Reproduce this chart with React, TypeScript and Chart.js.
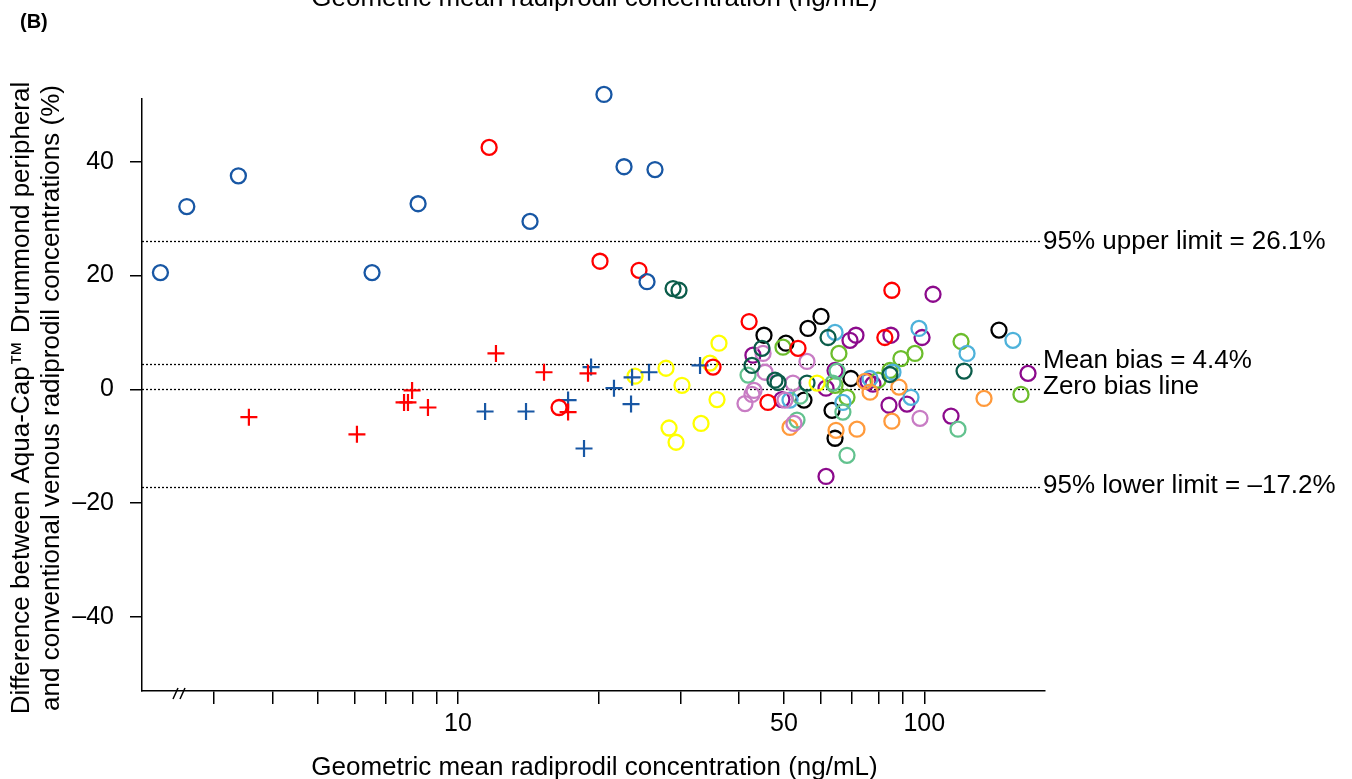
import React, { useEffect, useRef } from 'react';
import { Chart, registerables } from 'chart.js';

Chart.register(...registerables);

const FONT = "'Liberation Sans', Arial, Helvetica, sans-serif";

// Axis ticks
const xTickValues = [3, 4, 5, 6, 7, 8, 9, 10, 20, 30, 40, 50, 60, 70, 80, 90, 100];
const xTickLabels = ['10', '50', '100'];
const yTickValues = [-40, -20, 0, 20, 40];

// Reference lines
const refLineValues = [26.1, 4.4, 0, -17.2];
const refLineLabels = ['95% upper limit = 26.1%', 'Mean bias = 4.4%', 'Zero bias line', '95% lower limit = \u201317.2%'];

const xTitle = 'Geometric mean radiprodil concentration (ng/mL)';
const yTitleLines = ['Difference between Aqua-Cap\u2122 Drummond peripheral', 'and conventional venous radiprodil concentrations (%)'];

// Series (x = geometric mean concentration ng/mL, y = difference %)
const blueCircleX = [2.3, 2.62, 3.38, 6.54, 8.21, 14.27, 20.56, 22.7, 26.45, 25.43];
const blueCircleY = [20.5, 32.1, 37.5, 20.5, 32.6, 29.5, 51.8, 39.1, 38.6, 18.9];

const redCircleX = [11.66, 20.16, 24.44, 42.1, 35.23, 16.47, 46.2, 53.6, 85.2, 82.3];
const redCircleY = [42.5, 22.5, 20.9, 11.9, 3.9, -3.2, -2.3, 7.2, 17.4, 9.1];

const redCrossX = [3.56, 6.07, 7.66, 7.81, 7.97, 8.62, 12.06, 15.29, 19.0, 17.22];
const redCrossY = [-4.9, -7.9, -2.3, -2.3, -0.2, -3.2, 6.3, 3.0, 2.8, -4.0];

const blueCrossX = [11.43, 13.99, 17.22, 19.29, 21.6, 23.62, 23.5, 25.68, 18.63, 33.04];
const blueCrossY = [-3.9, -3.9, -1.9, 3.9, 0.2, 2.1, -2.6, 3.0, -10.4, 4.2];

const yellowX = [23.97, 27.93, 30.22, 36.28, 34.7, 35.93, 33.2, 28.35, 29.35, 58.9];
const yellowY = [2.3, 3.7, 0.7, 8.1, 4.6, -1.8, -6.0, -6.8, -9.3, 1.1];

const darkGreenX = [28.92, 29.78, 44.86, 42.7, 47.84, 48.56, 56.03, 62.17, 84.4, 121.7];
const darkGreenY = [17.7, 17.4, 7.2, 4.2, 1.6, 1.2, 1.1, 9.1, 2.6, 3.2];

const blackX = [45.31, 50.5, 56.3, 60.05, 55.2, 63.4, 64.35, 69.6, 144.6];
const blackY = [9.5, 8.1, 10.7, 12.8, -1.9, -3.7, -8.6, 1.9, 10.4];

const purpleX = [42.9, 49.5, 61.55, 64.35, 69.28, 71.36, 84.8, 98.9, 104.4, 75.7, 77.6, 84.0, 91.8, 114.1, 166.9, 61.55];
const purpleY = [6.0, -1.8, 0.2, 3.3, 8.6, 9.5, 9.5, 9.1, 16.7, 1.4, 0.9, -2.8, -2.6, -4.7, 2.8, -15.3];

const pinkX = [45.1, 45.54, 43.13, 42.7, 41.25, 52.28, 56.03, 50.26, 52.54, 97.9];
const pinkY = [6.3, 3.0, -0.2, -0.9, -2.5, 1.1, 4.9, -1.9, -6.0, -5.1];

const seaGreenX = [41.88, 53.33, 54.13, 65.0, 63.7, 66.9, 68.27, 118.1];
const seaGreenY = [2.5, -5.4, -1.2, 3.2, 1.1, -4.0, -11.6, -7.0];

const limeX = [49.77, 65.6, 68.27, 79.56, 84.4, 89.1, 95.5, 119.9, 161.2, 64.35];
const limeY = [7.4, 6.3, -1.4, 1.6, 3.3, 5.4, 6.3, 8.4, -0.9, 0.7];

const orangeX = [51.52, 64.67, 71.72, 76.5, 74.6, 88.24, 85.2, 134.3];
const orangeY = [-6.7, -7.2, -7.0, -0.5, 1.4, 0.4, -5.6, -1.6];

const lightBlueX = [64.35, 51.52, 66.9, 76.5, 85.66, 93.65, 97.4, 123.5, 154.9];
const lightBlueY = [10.0, -1.9, -2.3, 1.9, 3.0, -1.4, 10.7, 6.3, 8.6];

const toPts = (xs: number[], ys: number[]) => xs.map((x, i) => ({ x, y: ys[i] }));

const circleSet = (label: string, xs: number[], ys: number[], color: string) => ({
  label,
  data: toPts(xs, ys),
  pointStyle: 'circle',
  pointRadius: 7.5,
  borderWidth: 2.3,
  borderColor: color,
  backgroundColor: 'rgba(0,0,0,0)',
  clip: false as any,
});

const crossSet = (label: string, xs: number[], ys: number[], color: string) => ({
  label,
  data: toPts(xs, ys),
  pointStyle: 'cross',
  pointRadius: 8.5,
  borderWidth: 2.2,
  borderColor: color,
  backgroundColor: color,
  clip: false as any,
});

const overlayPlugin = {
  id: 'overlayPlugin',
  beforeDatasetsDraw(chart: any) {
    const { ctx, chartArea, scales } = chart;
    const ys = scales.y;
    ctx.save();
    ctx.strokeStyle = '#000';
    ctx.lineWidth = 1.3;
    ctx.setLineDash([2, 2]);
    refLineValues.forEach((v) => {
      const py = Math.round(ys.getPixelForValue(v)) + 0.5;
      ctx.beginPath();
      ctx.moveTo(chartArea.left, py);
      ctx.lineTo(chartArea.right - 5, py);
      ctx.stroke();
    });
    ctx.restore();
  },
  afterDraw(chart: any) {
    const { ctx, chartArea, scales } = chart;
    const ys = scales.y;
    ctx.save();
    ctx.fillStyle = '#000';

    // reference labels
    ctx.font = `26px ${FONT}`;
    ctx.textAlign = 'left';
    ctx.textBaseline = 'middle';
    const offs = [1, -3, -2, -1];
    refLineValues.forEach((v, i) => {
      const py = ys.getPixelForValue(v) + offs[i];
      ctx.fillText(refLineLabels[i], chartArea.right - 2, py);
    });

    // x titles (bottom and clipped top)
    const cx = (chartArea.left + chartArea.right) / 2 + 1;
    ctx.textAlign = 'center';
    ctx.textBaseline = 'alphabetic';
    ctx.fillText(xTitle, cx, 775);
    ctx.fillText(xTitle, cx, 6);

    // y title
    const cy = (chartArea.top + chartArea.bottom) / 2 + 3;
    ctx.save();
    ctx.translate(22, cy);
    ctx.rotate(-Math.PI / 2);
    ctx.textBaseline = 'middle';
    ctx.fillText(yTitleLines[0], 0, 0);
    ctx.restore();
    ctx.save();
    ctx.translate(52, cy);
    ctx.rotate(-Math.PI / 2);
    ctx.textBaseline = 'middle';
    ctx.fillText(yTitleLines[1], 0, 0);
    ctx.restore();

    // panel label
    ctx.font = `bold 20px ${FONT}`;
    ctx.textAlign = 'left';
    ctx.textBaseline = 'middle';
    ctx.fillText('(B)', 20, 22);

    // axis break marks
    const by = chartArea.bottom;
    ctx.strokeStyle = '#000';
    ctx.lineWidth = 1.5;
    ctx.beginPath();
    ctx.moveTo(173, by + 8);
    ctx.lineTo(178, by - 3);
    ctx.moveTo(180, by + 8);
    ctx.lineTo(185, by - 3);
    ctx.stroke();
    ctx.restore();
  },
};

export default function App() {
  const canvasRef = useRef<HTMLCanvasElement | null>(null);

  useEffect(() => {
    document.body.style.margin = '0';
    const canvas = canvasRef.current;
    if (!canvas) return;
    const chart = new Chart(canvas, {
      type: 'scatter',
      data: {
        datasets: [
          circleSet('blue', blueCircleX, blueCircleY, '#1857a4'),
          circleSet('red', redCircleX, redCircleY, '#ff0000'),
          crossSet('red cross', redCrossX, redCrossY, '#ff0000'),
          crossSet('blue cross', blueCrossX, blueCrossY, '#1857a4'),
          circleSet('yellow', yellowX, yellowY, '#ffff00'),
          circleSet('dark green', darkGreenX, darkGreenY, '#0b5c4a'),
          circleSet('pink', pinkX, pinkY, '#c87cc4'),
          circleSet('sea green', seaGreenX, seaGreenY, '#62c28e'),
          circleSet('orange', orangeX, orangeY, '#ff9a3c'),
          circleSet('light blue', lightBlueX, lightBlueY, '#4eb2da'),
          circleSet('lime', limeX, limeY, '#6cbd2c'),
          circleSet('purple', purpleX, purpleY, '#8c0a8c'),
          circleSet('black', blackX, blackY, '#000000'),
        ] as any,
      },
      options: {
        animation: false,
        responsive: true,
        maintainAspectRatio: false,
        events: [],
        layout: { padding: { top: 99, right: 307, bottom: 0, left: 0 } },
        plugins: {
          legend: { display: false },
          tooltip: { enabled: false },
          title: { display: false },
        },
        scales: {
          x: {
            type: 'logarithmic',
            min: 2.1,
            max: 181.5,
            afterBuildTicks: (scale: any) => {
              scale.ticks = xTickValues.map((v) => ({ value: v }));
            },
            afterFit: (scale: any) => {
              scale.height = 88;
            },
            ticks: {
              autoSkip: false,
              maxRotation: 0,
              padding: 5,
              color: '#000',
              font: { family: FONT, size: 25 },
              callback: (v: any) => (xTickLabels.includes(String(v)) ? String(v) : ''),
            },
            grid: {
              display: true,
              drawOnChartArea: false,
              drawTicks: true,
              tickLength: 13,
              color: '#000',
              lineWidth: 1.5,
            },
            border: { display: true, color: '#000', width: 1.5 },
          },
          y: {
            type: 'linear',
            min: -53,
            max: 51,
            afterBuildTicks: (scale: any) => {
              scale.ticks = yTickValues.map((v) => ({ value: v }));
            },
            afterFit: (scale: any) => {
              scale.width = 142;
            },
            ticks: {
              padding: 16,
              color: '#000',
              font: { family: FONT, size: 25 },
              callback: (v: any) => (Number(v) < 0 ? '\u2013' + Math.abs(Number(v)) : String(v)),
            },
            grid: {
              display: true,
              drawOnChartArea: false,
              drawTicks: true,
              tickLength: 12,
              color: '#000',
              lineWidth: 1.5,
            },
            border: { display: true, color: '#000', width: 1.5 },
          },
        },
      } as any,
      plugins: [overlayPlugin],
    });
    return () => chart.destroy();
  }, []);

  return (
    <div style={{ position: 'absolute', left: 0, top: 0, width: 1352, height: 779, background: '#fff' }}>
      <canvas ref={canvasRef} />
    </div>
  );
}
